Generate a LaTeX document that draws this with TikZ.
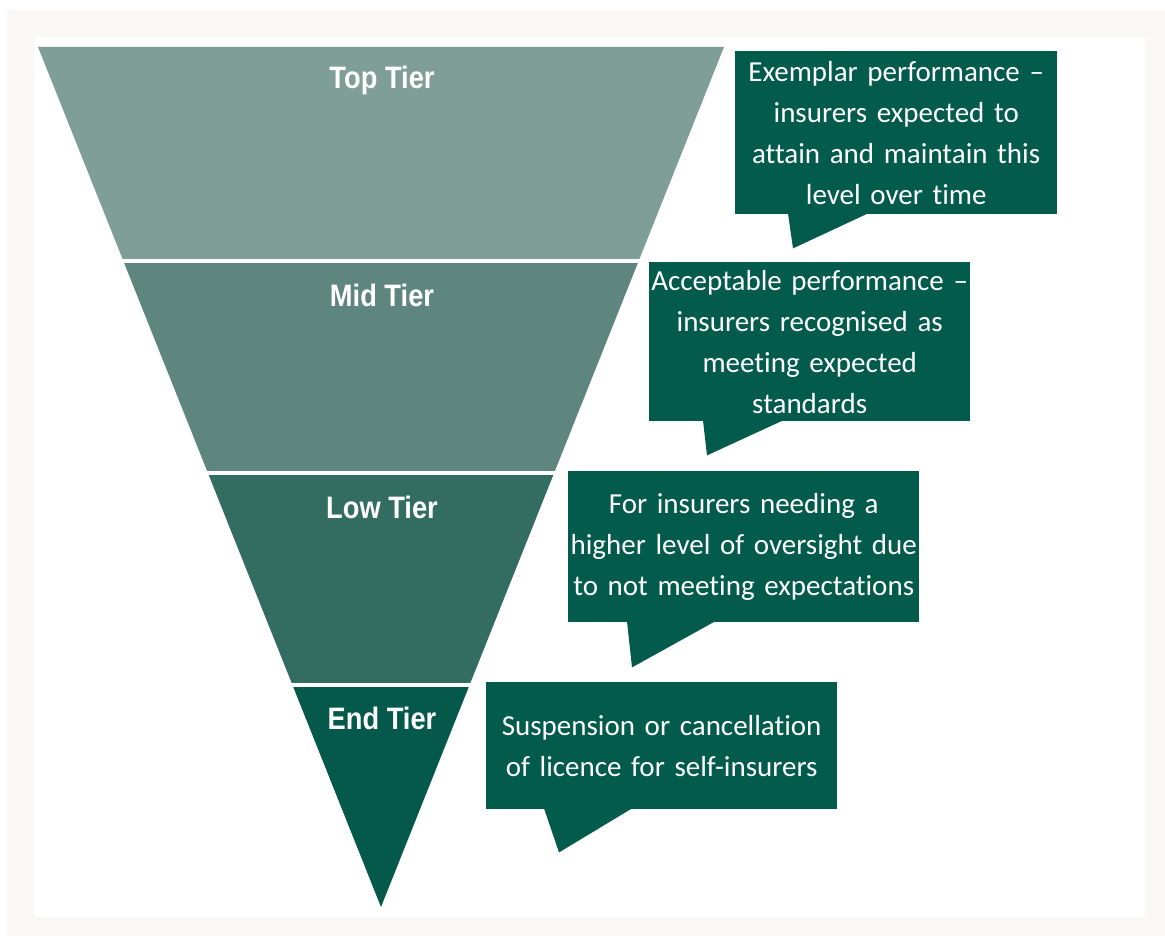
\documentclass[tikz,border=0pt]{standalone}
\usepackage{fontspec}
\setmainfont[Ligatures=TeX, RawFeature={-liga;-calt;-dlig;-clig}]{Carlito}
\newfontfamily\tierfont[FakeStretch=0.88]{Liberation Sans}
\usetikzlibrary{calc}

\definecolor{tiertop}{HTML}{7F9E97}
\definecolor{tiermid}{HTML}{5E867E}
\definecolor{tierlow}{HTML}{336C61}
\definecolor{tierend}{HTML}{05594B}
\definecolor{notefill}{HTML}{035B4C}
\definecolor{framegray}{HTML}{F9F8F6}

\begin{document}
\begin{tikzpicture}[
  x=1pt, y=-1pt,
  tier/.style={text=white, font=\tierfont\bfseries\fontsize{31}{36}\selectfont},
  note/.style={fill=notefill, text=white, align=center, anchor=north west,
    inner sep=0pt, font=\fontsize{29}{41}\selectfont},
  tail/.style={fill=notefill}
]
  \useasboundingbox (0,0) rectangle (1165,936);
  \fill[white] (0,0) rectangle (1165,936);
  \fill[framegray] (7,10) rectangle (1165,936);
  \fill[white] (34,37) rectangle (1145,917);

  % funnel, cut into four bands
  \coordinate (fl) at (38,47);
  \coordinate (fr) at (724,47);
  \coordinate (apex) at (381,907);
  \begin{scope}
    \clip (fl) -- (fr) -- (apex) -- cycle;
    \fill[tiertop] (0,40) rectangle (760,259);
    \fill[tiermid] (0,263) rectangle (760,471);
    \fill[tierlow] (0,475) rectangle (760,683);
    \fill[tierend] (0,687) rectangle (760,910);
  \end{scope}

  \node[tier] (toptier) at (382,80) {Top Tier};
  \node[tier] (midtier) at (382,295) {Mid Tier};
  \node[tier] (lowtier) at (382,507) {Low Tier};
  \node[tier] (endtier) at (382,718) {End Tier};

  % speech boxes
  \node[note, text width=322pt, minimum height=163pt] (note1) at (735,51)
    {Exemplar performance --\\insurers expected to\\attain and maintain this\\level over time};
  \node[note, text width=321pt, minimum height=159pt] (note2) at (649,262)
    {Acceptable performance --\\insurers recognised as\\meeting expected\\standards};
  \node[note, text width=351pt, minimum height=151pt] (note3) at (568,471)
    {For insurers needing a\\higher level of oversight due\\to not meeting expectations};
  \node[note, text width=351pt, minimum height=127pt] (note4) at (486,682)
    {Suspension or cancellation\\of licence for self-insurers};

  \fill[tail] ($(note1.south west)+(53,-1)$) -- ($(note1.south west)+(58,34)$)
    -- ($(note1.south west)+(133,-1)$) -- cycle;
  \fill[tail] ($(note2.south west)+(54,-1)$) -- ($(note2.south west)+(58,34)$)
    -- ($(note2.south west)+(134,-1)$) -- cycle;
  \fill[tail] ($(note3.south west)+(59,-1)$) -- ($(note3.south west)+(64,45)$)
    -- ($(note3.south west)+(147,-1)$) -- cycle;
  \fill[tail] ($(note4.south west)+(58,-1)$) -- ($(note4.south west)+(73,43)$)
    -- ($(note4.south west)+(146,-1)$) -- cycle;
\end{tikzpicture}
\end{document}
